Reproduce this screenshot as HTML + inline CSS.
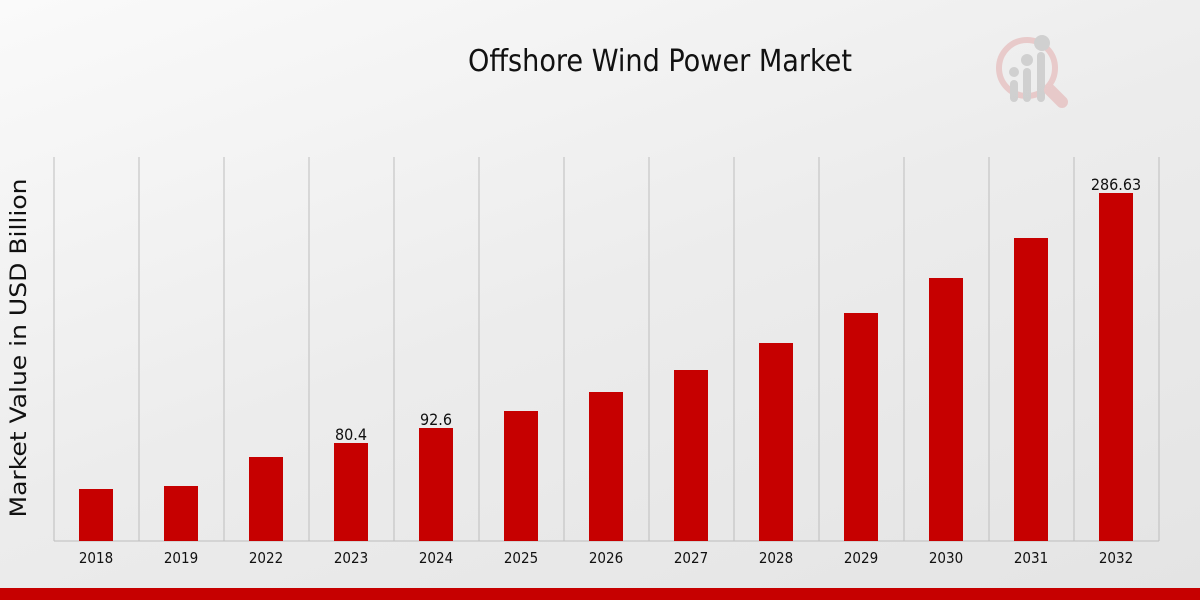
<!DOCTYPE html>
<html><head><meta charset="utf-8"><style>
body{margin:0;width:1200px;height:600px;overflow:hidden;background:linear-gradient(160deg,#fafafa 0%,#ececec 50%,#e4e4e4 100%);font-family:"Liberation Sans",sans-serif;}
</style></head><body>
<svg width="1200" height="600" xmlns="http://www.w3.org/2000/svg" style="position:absolute;left:0;top:0">
<text x="660" y="71" font-size="30" text-anchor="middle" font-family="DejaVu Sans Condensed, Liberation Sans, sans-serif" fill="#111" textLength="384" lengthAdjust="spacingAndGlyphs">Offshore Wind Power Market</text>
<g opacity="0.35">
<circle cx="1027" cy="68" r="28" fill="none" stroke="#d88" stroke-width="6"/>
<rect x="1010" y="80" width="8" height="22" rx="4" fill="#999"/>
<rect x="1023" y="68" width="8" height="34" rx="4" fill="#999"/>
<rect x="1037" y="52" width="8" height="50" rx="4" fill="#999"/>
<circle cx="1014" cy="72" r="5" fill="#999"/><circle cx="1027" cy="60" r="6" fill="#999"/><circle cx="1042" cy="43" r="8" fill="#999"/>
<line x1="1050" y1="90" x2="1062" y2="102" stroke="#d88" stroke-width="12" stroke-linecap="round"/>
</g>
<g stroke="#bdbdbd" stroke-width="1">
<line x1="54" y1="157" x2="54" y2="541"/><line x1="139" y1="157" x2="139" y2="541"/><line x1="224" y1="157" x2="224" y2="541"/><line x1="309" y1="157" x2="309" y2="541"/><line x1="394" y1="157" x2="394" y2="541"/><line x1="479" y1="157" x2="479" y2="541"/><line x1="564" y1="157" x2="564" y2="541"/><line x1="649" y1="157" x2="649" y2="541"/><line x1="734" y1="157" x2="734" y2="541"/><line x1="819" y1="157" x2="819" y2="541"/><line x1="904" y1="157" x2="904" y2="541"/><line x1="989" y1="157" x2="989" y2="541"/><line x1="1074" y1="157" x2="1074" y2="541"/><line x1="1159" y1="157" x2="1159" y2="541"/>
<line x1="54" y1="541" x2="1159" y2="541"/>
</g>
<g fill="#c60000">
<rect x="79" y="489" width="34" height="52"/><rect x="164" y="486" width="34" height="55"/><rect x="249" y="457" width="34" height="84"/><rect x="334" y="443" width="34" height="98"/><rect x="419" y="428" width="34" height="113"/><rect x="504" y="411" width="34" height="130"/><rect x="589" y="392" width="34" height="149"/><rect x="674" y="370" width="34" height="171"/><rect x="759" y="343" width="34" height="198"/><rect x="844" y="313" width="34" height="228"/><rect x="929" y="278" width="34" height="263"/><rect x="1014" y="238" width="34" height="303"/><rect x="1099" y="193" width="34" height="348"/>
</g>
<g font-size="16" text-anchor="middle" fill="#111" font-family="DejaVu Sans Condensed, Liberation Sans, sans-serif">
<text x="351" y="440">80.4</text><text x="436" y="425">92.6</text><text x="1116" y="190">286.63</text>
</g>
<g font-size="15" text-anchor="middle" fill="#111" font-family="DejaVu Sans Condensed, Liberation Sans, sans-serif">
<text x="96" y="563">2018</text><text x="181" y="563">2019</text><text x="266" y="563">2022</text><text x="351" y="563">2023</text><text x="436" y="563">2024</text><text x="521" y="563">2025</text><text x="606" y="563">2026</text><text x="691" y="563">2027</text><text x="776" y="563">2028</text><text x="861" y="563">2029</text><text x="946" y="563">2030</text><text x="1031" y="563">2031</text><text x="1116" y="563">2032</text>
</g>
<text x="0" y="0" font-size="22" text-anchor="middle" fill="#111" font-family="DejaVu Sans, sans-serif" textLength="339" lengthAdjust="spacingAndGlyphs" transform="translate(26 348) rotate(-90)">Market Value in USD Billion</text>
<rect x="0" y="588" width="1200" height="12" fill="#c60000"/>
</svg>
</body></html>
